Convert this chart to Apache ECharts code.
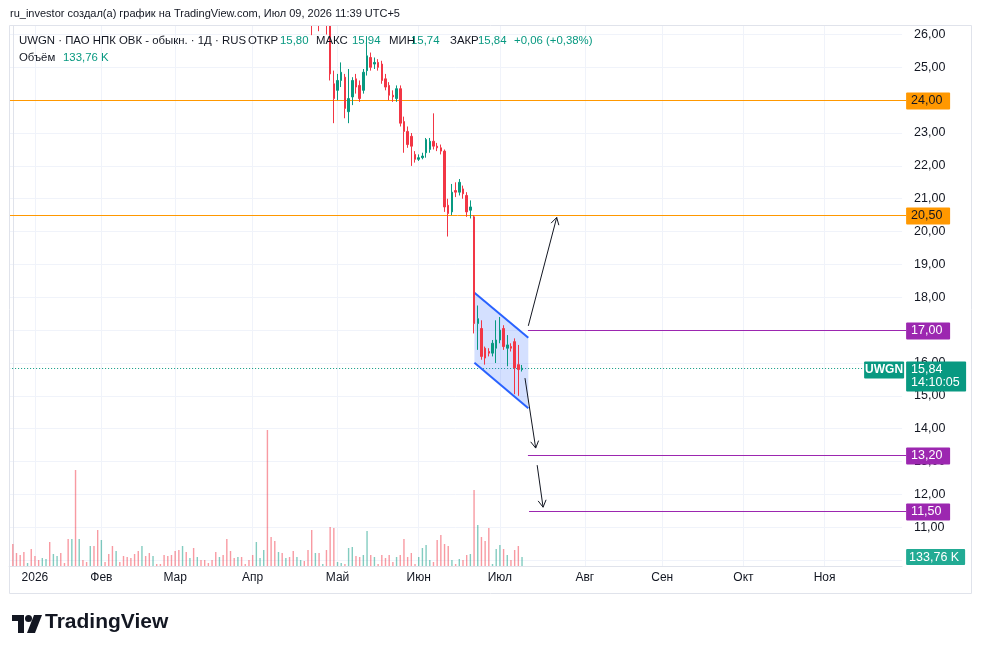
<!DOCTYPE html>
<html><head><meta charset="utf-8">
<script src="https://cdn.jsdelivr.net/npm/echarts@6/dist/echarts.min.js"></script>
<style>html,body{margin:0;padding:0;background:#fff}#c{width:982px;height:654px}</style>
</head><body><div id="c"></div>
<script>
// ---------- data ----------
const FIRST_CANDLE_BAR = 80;           // bar index of first candle in arrays below
const priceOpen  = [27.0,26.8,26.5,26.7,26.5,26.6,26.4,24.5,24.3,24.6,24.7,23.65,24.1,24.65,24.45,24.3,24.9,25.3,25.1,25.15,25.1,24.65,24.45,24.15,24.05,24.35,23.35,23.05,22.9,22.35,22.2,22.25,22.4,22.5,22.75,22.6,22.55,22.45,20.8,20.6,21.25,21.2,21.3,21.1,20.65,20.45,17.2,17.05,16.45,16.35,16.3,16.45,16.7,17.05,16.45,16.5,16.65,15.95,15.80];
const priceClose = [26.7,26.5,26.7,26.45,26.6,26.4,24.8,24.05,24.6,24.85,23.75,24.05,24.6,24.4,24.05,24.85,25.35,25.0,25.15,25.0,24.6,24.4,24.15,24.1,24.35,23.3,23.05,22.65,22.6,22.2,22.25,22.3,22.8,22.75,22.6,22.55,22.45,20.75,20.55,21.2,21.2,21.5,21.15,20.6,20.75,17.2,17.35,16.2,16.15,16.3,16.6,16.7,17.0,16.5,16.55,16.45,15.85,15.8,15.84];
const priceLow   = [26.4,25.98,26.35,26.1,26.35,26.0,24.6,23.3,24.0,24.4,23.45,23.3,23.85,24.2,23.95,24.2,24.75,24.9,24.95,24.9,24.5,24.3,24.0,23.95,23.95,23.2,22.4,22.55,22.0,22.1,22.15,22.2,22.25,22.4,22.5,22.45,22.35,20.6,19.85,20.5,21.05,21.1,21.0,20.45,20.4,16.9,16.4,16.1,15.95,16.2,16.2,16.0,16.6,16.4,15.9,16.35,15.05,15.0,15.74];
const priceHigh  = [27.2,27.0,26.9,26.9,26.8,26.8,26.6,24.9,24.8,25.15,24.8,24.95,24.7,24.8,24.6,24.95,25.95,25.45,25.3,25.25,25.2,24.8,24.55,24.3,24.45,24.45,23.5,23.2,23.0,22.45,22.35,22.4,22.85,22.85,23.6,22.7,22.65,22.5,21.0,21.45,21.5,21.6,21.4,21.2,20.95,20.5,17.75,17.3,16.5,16.45,16.7,17.3,17.4,17.15,16.85,16.6,16.75,16.55,15.94];
// volume, thousands of shares, bar 0 .. 138
const volumeK = [330,195,165,210,45,255,150,90,120,105,360,180,150,195,45,405,405,1440,405,90,60,300,300,540,390,60,180,300,225,60,150,135,120,180,225,300,150,195,150,30,30,165,150,165,225,240,300,210,120,270,135,90,90,45,90,210,135,165,405,225,120,135,135,30,90,165,360,120,240,2040,435,375,210,195,120,135,225,135,90,75,240,540,195,195,30,240,585,570,60,45,30,270,285,150,135,165,525,165,135,30,165,120,165,60,135,165,405,135,195,30,135,270,315,90,60,390,465,330,300,90,30,105,90,165,180,1140,615,435,375,570,30,255,315,255,165,90,240,300,133.76];
// direction of bars before the first visible candle (u = up, d = down)
const volumeDirEarly = 'dddduddduuduudddududduddudddudddddduddudddddddudududdddduddddudddduuudddududduud'.split('');
const monthStartBar = [6,24,44,65,88,110,132,155,176,198,220];
const monthNames = ['2026','Фев','Мар','Апр','Май','Июн','Июл','Авг','Сен','Окт','Ноя'];
const priceLabelTicks = [11,12,13,14,15,16,17,18,19,20,21,22,23,24,25,26];
const priceGridTicks = [10,11,12,13,14,15,16,17,18,19,20,21,22,23,24,25,26];
const levelsOrange = [24.0, 20.5];
const levelsPurple = [17.0, 13.2, 11.5];
const levelsPurpleStartBar = [139.6, 139.6, 139.9];
const channelBar = [125.1, 139.7];
const channelTop = [18.14, 16.77];
const channelBottom = [16.01, 14.62];
const arrowFromBar = [139.7, 138.8, 142.1];
const arrowFromPrice = [17.13, 15.54, 12.89];
const arrowToBar = [147.4, 141.7, 143.7];
const arrowToPrice = [20.43, 13.41, 11.61];
const lastPrice = 15.84;
const lastVolumeK = 133.76;

// ---------- chart ----------
const FONT = '"Liberation Sans", Arial, sans-serif';
const UP = '#089981', DOWN = '#f23645';
const X_MIN = -1, X_MAX = 241;
const Y_MIN = 9.82, Y_MAX = 26.289;
const VOL_MAX = 8115;

const candleData = priceOpen.map((o, k) => [FIRST_CANDLE_BAR + k, o, priceClose[k], priceLow[k], priceHigh[k]]);
const volData = volumeK.map((v, i) => {
  let up;
  if (i >= FIRST_CANDLE_BAR) { const k = i - FIRST_CANDLE_BAR; up = priceClose[k] >= priceOpen[k]; }
  else up = volumeDirEarly[i] === 'u';
  return { value: [i, v], itemStyle: { color: up ? 'rgba(8,153,129,0.5)' : 'rgba(242,54,69,0.5)' } };
});
const fmt = v => v.toFixed(2).replace('.', ',');

function arrowHead(p0, p1, len) {
  const dx = p1[0] - p0[0], dy = p1[1] - p0[1];
  const d = Math.hypot(dx, dy), ux = dx / d, uy = dy / d;
  const a = Math.PI / 6;
  const pts = [];
  [a, -a].forEach(t => {
    const c = Math.cos(t), s = Math.sin(t);
    const rx = ux * c - uy * s, ry = ux * s + uy * c;
    pts.push([p1[0] - rx * len, p1[1] - ry * len]);
  });
  return { type: 'polyline', shape: { points: [pts[0], p1, pts[1]] }, style: { stroke: '#131722', lineWidth: 1, fill: null } };
}

const legendTxt = (x, y, text, color) => ({ type: 'text', left: x, top: y, z: 101, silent: true, style: { text: text, fill: color, font: '11.4px ' + FONT } });

const chart = echarts.init(document.getElementById('c'));
chart.setOption({
  animation: false,
  backgroundColor: '#ffffff',
  grid: { left: 9.11, width: 893, top: 25, bottom: 88 },
  xAxis: {
    type: 'value', min: X_MIN, max: X_MAX,
    axisLine: { show: true, lineStyle: { color: '#e0e3eb' } },
    axisTick: { show: false, customValues: monthStartBar },
    axisLabel: { customValues: monthStartBar, formatter: v => monthNames[monthStartBar.indexOf(v)] || '',
      color: '#131722', fontSize: 12, fontFamily: FONT, margin: 6 },
    splitLine: { show: true, lineStyle: { color: '#f0f3fa' } }
  },
  yAxis: [{
    type: 'value', position: 'right', min: Y_MIN, max: Y_MAX,
    axisLine: { show: true, lineStyle: { color: '#e0e3eb' } },
    axisTick: { show: false, customValues: priceGridTicks },
    axisLabel: { customValues: priceLabelTicks, formatter: fmt, color: '#131722', fontSize: 12.5, fontFamily: FONT, margin: 12 },
    splitLine: { show: true, lineStyle: { color: '#f0f3fa' } }
  }, {
    type: 'value', min: 0, max: VOL_MAX, show: false, splitLine: { show: false }
  }],
  series: [{
    type: 'bar', xAxisIndex: 0, yAxisIndex: 1, data: volData, barWidth: 1.4, z: 1, silent: true
  }, {
    type: 'custom', xAxisIndex: 0, yAxisIndex: 0, z: 2, silent: true, data: [[100, 20]],
    renderItem: function (params, api) {
      const ch = [];
      const left = api.coord([X_MIN, 20])[0], right = api.coord([X_MAX, 20])[0];
      const Y = p => Math.round(api.coord([0, p])[1]) + 0.5;
      levelsOrange.forEach(p => ch.push({ type: 'line', shape: { x1: left, y1: Y(p), x2: right + 4, y2: Y(p) }, style: { stroke: '#ff9800', lineWidth: 1 } }));
      levelsPurple.forEach((p, k) => ch.push({ type: 'line', shape: { x1: api.coord([levelsPurpleStartBar[k], p])[0], y1: Y(p), x2: right + 4, y2: Y(p) }, style: { stroke: '#9c27b0', lineWidth: 1 } }));
      ch.push({ type: 'line', shape: { x1: left, y1: Y(lastPrice), x2: right - 38, y2: Y(lastPrice) }, style: { stroke: UP, lineWidth: 1, lineDash: [1, 2] } });
      const t0 = api.coord([channelBar[0], channelTop[0]]), t1 = api.coord([channelBar[1], channelTop[1]]);
      const b0 = api.coord([channelBar[0], channelBottom[0]]), b1 = api.coord([channelBar[1], channelBottom[1]]);
      ch.push({ type: 'polygon', shape: { points: [t0, t1, b1, b0] }, style: { fill: 'rgba(41,98,255,0.2)' } });
      ch.push({ type: 'line', shape: { x1: t0[0], y1: t0[1], x2: t1[0], y2: t1[1] }, style: { stroke: '#2962ff', lineWidth: 2 } });
      ch.push({ type: 'line', shape: { x1: b0[0], y1: b0[1], x2: b1[0], y2: b1[1] }, style: { stroke: '#2962ff', lineWidth: 2 } });
      arrowFromBar.forEach((fb, k) => {
        const p0 = api.coord([fb, arrowFromPrice[k]]), p1 = api.coord([arrowToBar[k], arrowToPrice[k]]);
        ch.push({ type: 'line', shape: { x1: p0[0], y1: p0[1], x2: p1[0], y2: p1[1] }, style: { stroke: '#131722', lineWidth: 1 } });
        ch.push(arrowHead(p0, p1, 8));
      });
      const bx = right + 4;
      const badge = (p, bg, fg) => {
        const y = Y(p);
        ch.push({ type: 'rect', shape: { x: bx, y: y - 8, width: 44, height: 17, r: 1 }, style: { fill: bg } });
        ch.push({ type: 'text', style: { text: fmt(p), x: bx + 5, y: y + 0.5, fill: fg, font: '12.5px ' + FONT, align: 'left', verticalAlign: 'middle' } });
      };
      levelsOrange.forEach(p => badge(p, '#ff9800', '#131722'));
      levelsPurple.forEach(p => badge(p, '#9c27b0', '#ffffff'));
      const ly = Y(lastPrice);
      ch.push({ type: 'rect', shape: { x: bx, y: ly - 7, width: 60, height: 30, r: 1 }, style: { fill: UP } });
      ch.push({ type: 'text', style: { text: fmt(lastPrice), x: bx + 5, y: ly + 1, fill: '#fff', font: '12.5px ' + FONT, align: 'left', verticalAlign: 'middle' } });
      ch.push({ type: 'text', style: { text: '14:10:05', x: bx + 5, y: ly + 14.5, fill: '#fff', font: '12.5px ' + FONT, align: 'left', verticalAlign: 'middle' } });
      ch.push({ type: 'rect', shape: { x: right - 38, y: ly - 7, width: 40, height: 17, r: 1 }, style: { fill: UP } });
      ch.push({ type: 'text', style: { text: 'UWGN', x: right - 18, y: ly + 1.5, fill: '#fff', font: 'bold 12px ' + FONT, align: 'center', verticalAlign: 'middle' } });
      return { type: 'group', children: ch };
    }
  }, {
    type: 'candlestick', xAxisIndex: 0, yAxisIndex: 0, z: 3, clip: true, silent: true,
    data: candleData, encode: { x: 0, y: [1, 2, 3, 4] }, barWidth: 2,
    itemStyle: { color: UP, color0: DOWN, borderColor: UP, borderColor0: DOWN, borderWidth: 1 }
  }, {
    type: 'custom', xAxisIndex: 0, yAxisIndex: 1, z: 4, silent: true, data: [[138, lastVolumeK]],
    renderItem: function (params, api) {
      const right = api.coord([X_MAX, 0])[0];
      const y = Math.round(api.coord([138, lastVolumeK])[1]);
      return { type: 'group', children: [
        { type: 'rect', shape: { x: right + 4, y: y - 8, width: 59, height: 16, r: 1 }, style: { fill: '#22ab94' } },
        { type: 'text', style: { text: '133,76 K', x: right + 7, y: y + 0.5, fill: '#fff', font: '12.5px ' + FONT, align: 'left', verticalAlign: 'middle' } }
      ] };
    }
  }],
  graphic: [
    // white mask above the price pane (candles above the visible price range are cut there)
    { type: 'rect', z: 100, silent: true, shape: { x: 0, y: 0, width: 982, height: 25 }, style: { fill: '#ffffff' } },
    { type: 'rect', z: 101, silent: true, shape: { x: 9.5, y: 25.5, width: 962, height: 568 }, style: { fill: null, stroke: '#e0e3eb' } },
    { type: 'text', z: 101, silent: true, left: 10, top: 8, style: { text: 'ru_investor создал(а) график на TradingView.com, Июл 09, 2026 11:39 UTC+5', fill: '#131722', font: '11px ' + FONT } },
    legendTxt(19, 35, 'UWGN · ПАО НПК ОВК - обыкн. · 1Д · RUS', '#131722'),
    legendTxt(248, 35, 'ОТКР', '#131722'),
    legendTxt(280, 35, '15,80', UP),
    legendTxt(316, 35, 'МАКС', '#131722'),
    legendTxt(352, 35, '15,94', UP),
    legendTxt(389, 35, 'МИН', '#131722'),
    legendTxt(411, 35, '15,74', UP),
    legendTxt(450, 35, 'ЗАКР', '#131722'),
    legendTxt(478, 35, '15,84', UP),
    legendTxt(514, 35, '+0,06 (+0,38%)', UP),
    legendTxt(19, 52, 'Объём', '#131722'),
    legendTxt(63, 52, '133,76 K', UP),
    { type: 'polygon', z: 101, silent: true, shape: { points: [[12, 615], [24, 615], [24, 633], [18, 633], [18, 621], [12, 621]] }, style: { fill: '#131722' } },
    { type: 'circle', z: 101, silent: true, shape: { cx: 28.5, cy: 618.5, r: 3.5 }, style: { fill: '#131722' } },
    { type: 'polygon', z: 101, silent: true, shape: { points: [[34, 615], [42, 615], [35, 633], [27, 633]] }, style: { fill: '#131722' } },
    { type: 'text', z: 101, silent: true, left: 45, top: 612, style: { text: 'TradingView', fill: '#131722', font: 'bold 21px ' + FONT } }
  ]
});
</script>
</body></html>
